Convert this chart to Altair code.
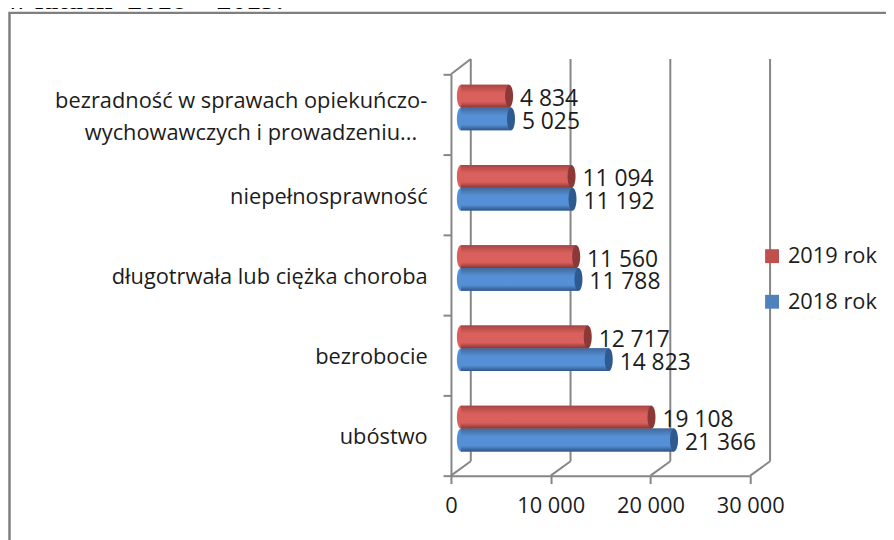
import altair as alt
import pandas as pd

categories = ["bezradność w sprawach opiekuńczo-|wychowawczych i prowadzeniu...",
              "niepełnosprawność", "długotrwała lub ciężka choroba", "bezrobocie", "ubóstwo"]
values_2019 = [4834, 11094, 11560, 12717, 19108]
values_2018 = [5025, 11192, 11788, 14823, 21366]
labels_2019 = ["4 834", "11 094", "11 560", "12 717", "19 108"]
labels_2018 = ["5 025", "11 192", "11 788", "14 823", "21 366"]
series = ["2019 rok", "2018 rok"]
ticks = [0, 10000, 20000, 30000]
heading_text = "w latach\u00a0\u00a02018 – 2019."

rows = []
for c, a, b, la, lb in zip(categories, values_2019, values_2018, labels_2019, labels_2018):
    rows.append(dict(cat=c, series=series[0], v=a, label=la, zero=0))
    rows.append(dict(cat=c, series=series[1], v=b, label=lb, zero=0))
df = pd.DataFrame(rows)
tick_df = pd.DataFrame({"t": ticks})

FONT = "Open Sans"
GREY = "#868686"
TXT = "#1c1c1c"
W, H = 302, 405
PL, PT = 447, 64.5

x_scale = alt.Scale(domain=[0, 30000], range=[0, W])
y_scale = alt.Scale(domain=categories, paddingInner=0, paddingOuter=0)
off_scale = alt.Scale(domain=series, range=[10.5, 56.5])
X = alt.X("v:Q", scale=x_scale, title=None,
          axis=alt.Axis(values=ticks, grid=False, domainColor=GREY, domainWidth=2, tickColor=GREY,
                        tickWidth=2, tickSize=8, labelFont=FONT, labelFontSize=22, labelColor=TXT,
                        labelPadding=12, labelFlush=False,
                        labelExpr="replace(format(datum.value, ','), ',', ' ')"))
Y = alt.Y("cat:N", scale=y_scale, title=None, sort=categories,
          axis=alt.Axis(tickBand="extent", grid=False, domainColor=GREY, domainWidth=2, tickColor=GREY,
                        tickWidth=2, tickSize=8, labelFont=FONT, labelFontSize=22, labelColor=TXT,
                        labelPadding=16, labelLimit=0, labelOffset=1.5,
                        labelExpr="indexof(datum.label, '|') >= 0 ? '' : datum.label"))
YC = alt.Y("cat:N", scale=y_scale, sort=categories)
YO = alt.YOffset("series:N", scale=off_scale, sort=series)

base = alt.Chart(df)

# walls and floor
back = alt.Chart(tick_df).mark_rule(color=GREY, strokeWidth=2, xOffset=20).encode(
    x=alt.X("t:Q", scale=x_scale), y=alt.value(-15.5), y2=alt.value(390.5))
floor = alt.Chart(tick_df).mark_rule(color=GREY, strokeWidth=2, x2Offset=20).encode(
    x=alt.X("t:Q", scale=x_scale), x2=alt.X2("t"),
    y=alt.value(H), y2=alt.value(390.5))
top = alt.Chart(pd.DataFrame({"t": [0]})).mark_rule(color=GREY, strokeWidth=2, x2Offset=20).encode(
    x=alt.X("t:Q", scale=x_scale), x2=alt.X2("t"),
    y=alt.value(0), y2=alt.value(-15.5))

# frame around the chart, running off the right and bottom of the picture
frame = alt.Chart(pd.DataFrame({"a": [0]})).mark_rect(
    fill="transparent", stroke="#7f7f7f", strokeWidth=2.5).encode(
    x=alt.value(1.5 - PL), x2=alt.value(900 - PL), y=alt.value(2.5 - PT), y2=alt.value(560 - PT))

# heading line that runs off the top of the picture
heading = alt.Chart(pd.DataFrame({"s": [heading_text]})).mark_text(
    font="Liberation Serif", fontSize=30, fontWeight="bold", align="left", baseline="alphabetic",
    color="#000000").encode(text="s:N", x=alt.value(-2 - PL), y=alt.value(-1 - PT))

# the two-line category label
line1, line2 = categories[0].split("|")
wrap = pd.DataFrame({"cat": [categories[0]], "a": [line1], "b": [line2]})
lab1 = alt.Chart(wrap).mark_text(font=FONT, fontSize=22, color=TXT, align="right", dy=-14).encode(
    x=alt.value(-24), y=YC, text="a:N")
lab2 = alt.Chart(wrap).mark_text(font=FONT, fontSize=22, color=TXT, align="right", dy=19).encode(
    x=alt.value(-34), y=YC, text="b:N")

# solid bars carry the legend; gradient bars sit on top
solid = base.mark_bar(xOffset=10, x2Offset=10).encode(
    x=X, x2=alt.X2("zero"), y=Y, yOffset=YO,
    color=alt.Color("series:N", sort=series,
                    scale=alt.Scale(domain=series, range=["#c0504d", "#4f81bd"]),
                    legend=alt.Legend(title=None, orient="none", legendX=313, legendY=172.5,
                                      symbolType="square", symbolSize=196, symbolStrokeWidth=0,
                                      labelFont=FONT, labelFontSize=22, labelColor=TXT,
                                      rowPadding=24, labelOffset=5, symbolOpacity=1)))


def cylinder(name, c0, c1, c2, c3):
    d = base.transform_filter(alt.datum.series == name)
    grad = alt.Gradient(gradient="linear", x1=0, x2=0, y1=0, y2=1,
                        stops=[alt.GradientStop(offset=0, color=c0),
                               alt.GradientStop(offset=0.35, color=c1),
                               alt.GradientStop(offset=0.75, color=c1),
                               alt.GradientStop(offset=1, color=c2)])
    body = d.mark_bar(fill=grad, xOffset=10, x2Offset=10).encode(
        x=alt.X("v:Q", scale=x_scale), x2=alt.X2("zero"), y=YC, yOffset=YO)
    ellipse = "M0,-1 A0.35,1 0 1 1 0,1 A0.35,1 0 1 1 0,-1 Z"
    left = d.mark_point(shape=ellipse, filled=True, size=529, opacity=1, color=c1, xOffset=10).encode(
        x=alt.X("zero:Q", scale=x_scale), y=YC, yOffset=YO)
    cap = d.mark_point(shape=ellipse, filled=True, size=529, opacity=1, color=c3, xOffset=10).encode(
        x=alt.X("v:Q", scale=x_scale), y=YC, yOffset=YO)
    return left + body + cap


red = cylinder("2019 rok", "#a94543", "#d9605c", "#8a3533", "#8c3836")
blue = cylinder("2018 rok", "#41699b", "#5590d6", "#2f5485", "#2f5a8f")

labels = base.mark_text(font=FONT, fontSize=23, color=TXT, align="left", dx=21, dy=3).encode(
    x=alt.X("v:Q", scale=x_scale), y=YC, yOffset=YO, text="label:N")

chart = alt.layer(frame, heading, back, floor, top, solid, blue, red, labels, lab1, lab2).properties(
    width=W, height=H, autosize=alt.AutoSizeParams(type="none"),
    padding={"left": PL, "top": PT, "right": 886 - PL - W, "bottom": 532 - PT - H},
    background="white",
).configure_view(stroke=None)

chart.save("out.html", embed_options={"renderer": "svg", "actions": False})
